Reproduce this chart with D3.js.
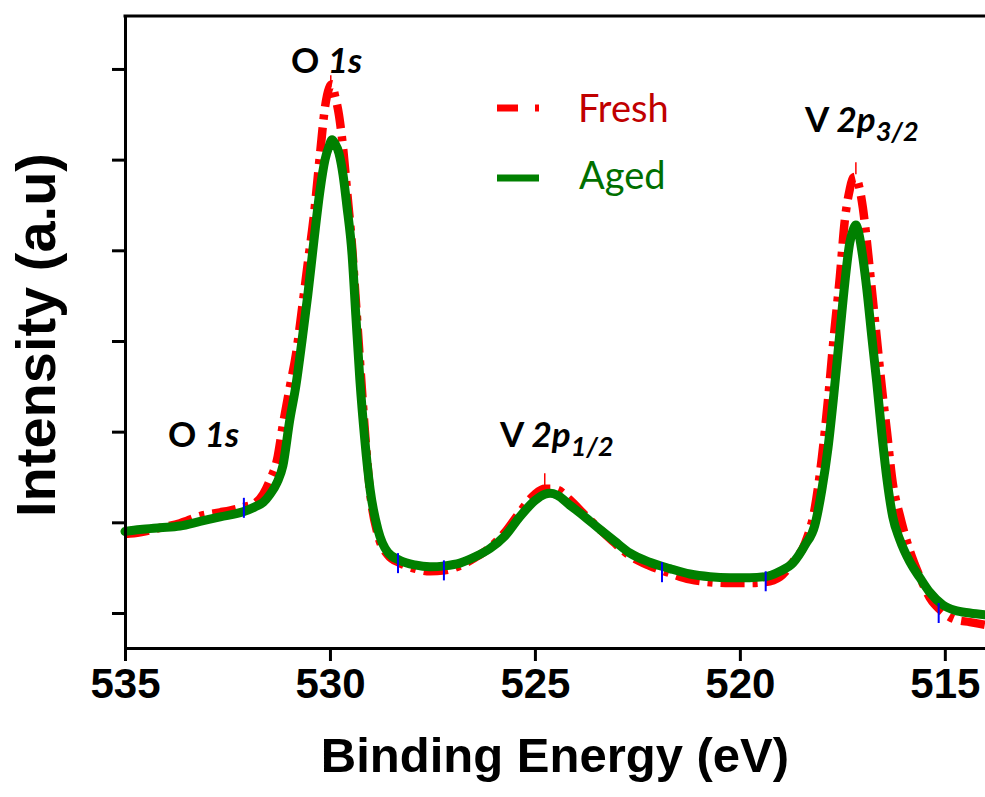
<!DOCTYPE html>
<html><head><meta charset="utf-8">
<script src="https://cdn.jsdelivr.net/npm/d3@7"></script>
<style>body{margin:0;background:#fff}svg{display:block}</style>
</head><body>
<svg id="chart" width="985" height="797"></svg>
<script>
// Binding energy (eV)
const energy = [535.00,534.63,534.15,533.66,533.17,532.68,532.10,531.83,531.63,531.46,531.29,531.15,530.98,530.83,530.68,530.54,530.39,530.24,530.12,530.02,529.95,529.88,529.78,529.68,529.59,529.46,529.37,529.27,529.15,529.02,528.83,528.59,528.29,527.93,527.56,527.20,526.83,526.46,526.10,525.73,525.37,525.00,524.76,524.63,524.46,524.15,523.78,523.41,523.05,522.68,522.20,521.71,521.22,520.73,520.24,519.76,519.39,519.02,518.71,518.41,518.17,518.00,517.85,517.71,517.56,517.44,517.32,517.24,517.17,517.10,517.00,516.90,516.78,516.66,516.54,516.41,516.27,516.10,515.85,515.61,515.37,515.05,514.76,514.39,514.02];
// Intensity (a.u.) – Fresh sample
const fresh = [1.87,1.89,1.94,1.99,2.07,2.11,2.17,2.21,2.31,2.47,2.69,3.07,3.49,3.85,4.36,4.86,5.39,6.07,6.58,6.79,6.83,6.71,6.49,6.13,5.69,5.04,4.45,3.79,3.02,2.33,1.86,1.64,1.55,1.49,1.46,1.47,1.52,1.61,1.72,1.89,2.11,2.31,2.37,2.37,2.36,2.25,2.08,1.92,1.77,1.63,1.52,1.44,1.37,1.34,1.33,1.33,1.34,1.40,1.56,1.77,2.16,2.71,3.35,4.04,4.71,5.33,5.67,5.80,5.81,5.72,5.47,5.09,4.56,4.03,3.50,2.99,2.43,2.08,1.68,1.40,1.17,1.01,0.93,0.90,0.87];
// Intensity (a.u.) – Aged sample
const aged = [1.90,1.92,1.94,1.96,2.01,2.06,2.12,2.17,2.22,2.31,2.44,2.62,3.13,3.51,4.01,4.51,5.11,5.67,6.00,6.15,6.22,6.18,6.07,5.83,5.50,4.95,4.29,3.57,2.91,2.36,1.92,1.67,1.58,1.53,1.51,1.52,1.55,1.62,1.71,1.85,2.06,2.24,2.31,2.32,2.30,2.19,2.06,1.92,1.79,1.66,1.56,1.49,1.43,1.40,1.39,1.39,1.40,1.46,1.55,1.75,1.97,2.36,2.82,3.40,4.09,4.64,5.08,5.22,5.28,5.19,4.92,4.56,4.04,3.54,2.99,2.47,2.06,1.81,1.56,1.39,1.23,1.09,1.03,1.00,0.98];
const xTicks = [535,530,525,520,515];
const yTicks = [1,2,3,4,5,6,7];
// small data markers seen on the curves
const blueMarkE = [532.10,528.34,527.22,521.90,519.37,515.15];
const blueMarkV = [2.16,1.55,1.47,1.45,1.35,1.00];
const redMarkE = [529.98,524.76,517.17];
const redMarkV = [6.93,2.54,5.97];
const series = [
  {name:"Fresh", color:"#ff0000", text:"#c00000"},
  {name:"Aged", color:"#008000", text:"#006f00"}
];

const svg = d3.select("#chart");
const x = d3.scaleLinear().domain([535, 514.02]).range([125, 985]);
const y = d3.scaleLinear().domain([0.614, 7.584]).range([648, 16]);

const line = d3.line().x((d,i)=>x(energy[i])).y(d=>y(d)).curve(d3.curveMonotoneX);

// Fresh (dashed red)
svg.append("path").datum(fresh).attr("d", line)
  .attr("fill","none").attr("stroke", series[0].color).attr("stroke-width",8.5)
  .attr("stroke-dasharray","24,8,5,8").attr("stroke-linejoin","round");
// Aged (solid green)
svg.append("path").datum(aged).attr("d", line)
  .attr("fill","none").attr("stroke", series[1].color).attr("stroke-width",9)
  .attr("stroke-linejoin","round").attr("stroke-linecap","round");

// markers
svg.selectAll(".bm").data(blueMarkE).enter().append("line")
  .attr("x1",(d)=>x(d)).attr("x2",(d)=>x(d))
  .attr("y1",(d,i)=>y(blueMarkV[i])-10).attr("y2",(d,i)=>y(blueMarkV[i])+10)
  .attr("stroke","#0000ff").attr("stroke-width",2);
svg.selectAll(".rm").data(redMarkE).enter().append("line")
  .attr("x1",(d)=>x(d)).attr("x2",(d)=>x(d))
  .attr("y1",(d,i)=>y(redMarkV[i])).attr("y2",(d,i)=>y(redMarkV[i])+12)
  .attr("stroke","#ff0000").attr("stroke-width",1.5);

// axes
const xAxis = svg.append("g").attr("transform","translate(0,648)")
  .call(d3.axisBottom(x).tickValues(xTicks).tickSize(13).tickSizeOuter(0).tickFormat(d3.format("d")));
xAxis.select(".domain").attr("stroke","#000").attr("stroke-width",3);
xAxis.selectAll(".tick line").attr("stroke","#000").attr("stroke-width",3);
xAxis.selectAll(".tick text").attr("font-family","'Liberation Sans', Arial, sans-serif")
  .attr("font-weight","bold").attr("font-size",42).attr("fill","#000").attr("dy","0").attr("y",50);

const yAxis = svg.append("g").attr("transform","translate(125,0)")
  .call(d3.axisLeft(y).tickValues(yTicks).tickSize(13).tickSizeOuter(0).tickFormat(""));
yAxis.select(".domain").attr("stroke","#000").attr("stroke-width",3);
yAxis.selectAll(".tick line").attr("stroke","#000").attr("stroke-width",3);

svg.append("line").attr("x1",123.5).attr("x2",985).attr("y1",16).attr("y2",16)
  .attr("stroke","#000").attr("stroke-width",3);

// axis titles
svg.append("text").attr("x",555).attr("y",772).attr("text-anchor","middle")
  .attr("font-family","'Liberation Sans', Arial, sans-serif").attr("font-weight","bold")
  .attr("font-size",49).text("Binding Energy (eV)");
svg.append("text").attr("transform","translate(55,335) rotate(-90)").attr("text-anchor","middle")
  .attr("font-family","'Liberation Sans', Arial, sans-serif").attr("font-weight","bold")
  .attr("font-size",56).text("Intensity (a.u)");

// peak annotations
function label(xp, yp, main, ital, sub){
  const t = svg.append("text").attr("x",xp).attr("y",yp)
    .attr("font-family","Lato, 'Open Sans', sans-serif").attr("font-weight","bold").attr("font-size",35).attr("fill","#000");
  t.append("tspan").text(main);
  t.append("tspan").attr("font-style","italic").text(ital);
  if(sub) t.append("tspan").attr("font-style","italic").attr("font-size",27).attr("dy",9).text(sub);
}
label(291,73,"O ","1s");
label(168,447,"O ","1s");
label(500,447,"V ","2p","1/2");
label(805,132,"V ","2p","3/2");

// legend
const lg = svg.append("g");
lg.append("line").attr("x1",497).attr("x2",539).attr("y1",108).attr("y2",108)
  .attr("stroke",series[0].color).attr("stroke-width",7).attr("stroke-dasharray","21,17,4,20");
lg.append("line").attr("x1",497).attr("x2",539).attr("y1",178).attr("y2",178)
  .attr("stroke",series[1].color).attr("stroke-width",7);
lg.append("text").attr("x",578).attr("y",122).attr("font-family","Lato, 'Open Sans', sans-serif")
  .attr("font-size",38).attr("fill",series[0].text).text(series[0].name);
lg.append("text").attr("x",579).attr("y",189).attr("font-family","Lato, 'Open Sans', sans-serif")
  .attr("font-size",38).attr("fill",series[1].text).text(series[1].name);
</script>
</body></html>
